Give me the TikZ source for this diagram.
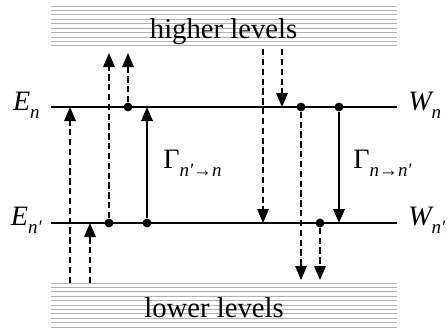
\documentclass[tikz,border=0pt]{standalone}
\usepackage{fontspec}
\setmainfont{Liberation Serif}
\usetikzlibrary{arrows.meta}
\newcommand{\lvlname}[2]{{\fontsize{20}{22}\selectfont\itshape #1}\raisebox{-5.5pt}{\fontsize{13.5}{15}\selectfont\itshape #2}}
\newcommand{\rate}[2]{{\fontsize{20}{22}\selectfont Γ}\raisebox{-6pt}{\fontsize{13.5}{15}\selectfont\itshape #1{\upshape →}#2}}
\tikzset{
  level/.style={line width=1.4pt},
  band/.style={gray!60,line width=0.7pt},
  trans/.style={line width=1pt,-{Triangle[length=0.35cm,width=0.29cm]}},
  jump/.style={trans,line width=0.85pt,dash pattern=on 4.5pt off 2.5pt},
  dot/.style={circle,fill,inner sep=0pt,minimum size=0.22cm},
  lbl/.style={inner sep=0pt}
}
\begin{document}
\begin{tikzpicture}
\useasboundingbox (0,0) rectangle (11.2,8.275);
% bands of levels
\foreach \i in {0,...,9} \draw[band] (1.275,8.125-\i*0.111) -- (9.925,8.125-\i*0.111);
\foreach \i in {0,...,10} \draw[band] (1.275,1.2-\i*0.11) -- (9.925,1.2-\i*0.11);
\node[anchor=base,font=\fontsize{20.4}{24}\selectfont](hi)at(5.59,7.32){higher levels};
\node[anchor=base,font=\fontsize{20.4}{24}\selectfont](lo)at(5.35,0.35){lower levels};
% the two levels
\coordinate (n-l) at (1.275,5.6); \coordinate (n-r) at (9.925,5.6);
\coordinate (m-l) at (1.275,2.7); \coordinate (m-r) at (9.925,2.7);
\draw[level] (n-l) -- (n-r);
\draw[level] (m-l) -- (m-r);
\node[lbl,anchor=base east](En)at(1.0,5.51){\lvlname{E}{n}};
\node[lbl,anchor=base east](Em)at(1.05,2.63){\lvlname{E}{n′}};
\node[lbl,anchor=base west](Wn)at(10.2,5.51){\lvlname{W}{n}};
\node[lbl,anchor=base west](Wm)at(10.2,2.63){\lvlname{W}{n′}};
% ends of the jumps
\coordinate (up) at (0,6.95);
\coordinate (dn) at (0,1.275);
\coordinate (a) at (1.75,1.2);
\coordinate (b) at (2.25,1.2);
\coordinate (c) at (6.575,7.05);
\coordinate (d) at (7.05,7.05);
\node[dot](1)at(2.725,2.7){};
\node[dot](2)at(3.2,5.6){};
\node[dot](3)at(3.675,2.7){};
\node[dot](4)at(7.525,5.6){};
\node[dot](5)at(8.0,2.7){};
\node[dot](6)at(8.475,5.6){};
\draw[jump] (a) -- (a |- n-l);
\draw[jump] (b) -- (b |- m-l);
\draw[jump] (1) -- (1 |- up);
\draw[jump] (2) -- (2 |- up);
\draw[trans] (3) -- (3 |- n-l);
\draw[jump] (c) -- (c |- m-l);
\draw[jump] (d) -- (d |- n-l);
\draw[jump] (4) -- (4 |- dn);
\draw[jump] (5) -- (5 |- dn);
\draw[trans] (6) -- (6 |- m-l);
\node[lbl,anchor=base west](g1)at(4.075,4.07){\rate{n′}{n}};
\node[lbl,anchor=base west](g2)at(8.825,4.07){\rate{n}{n′}};
\end{tikzpicture}
\end{document}
